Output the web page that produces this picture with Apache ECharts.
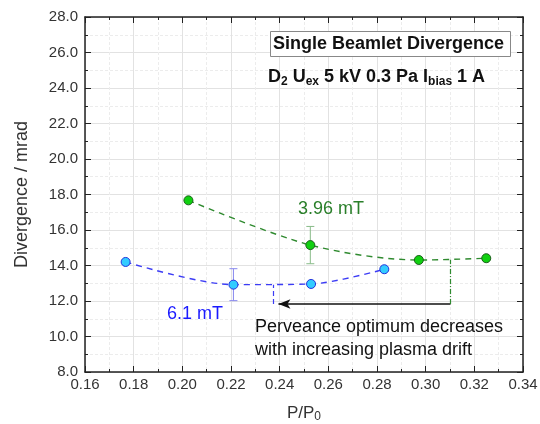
<!DOCTYPE html>
<html>
<head>
    <meta charset="utf-8">
    <script src="https://cdn.jsdelivr.net/npm/echarts@6/dist/echarts.min.js"></script>
    <style>
        *{
            margin:0;
            padding:0;
        }
    </style>
</head>
<body>
    <div id="main" style="width: 540px;height:424px;"></div>
    <script type="text/javascript">

    // 3.96 mT series
    var greenX = [0.2025, 0.2526, 0.2972, 0.3249];
    var greenY = [17.67, 15.15, 14.31, 14.41];
    var greenErr = [0, 1.05, 0, 0];
    // 6.1 mT series
    var blueX = [0.1767, 0.2210, 0.2529, 0.2830];
    var blueY = [14.20, 12.92, 12.96, 13.79];
    var blueErr = [0, 0.90, 0, 0];
    // annotation: optimum shift
    var arrowFrom = [0.3102, 11.83];
    var arrowTo = [0.2395, 11.83];
    var greenOptTop = 14.33;
    var blueOptX = 0.2375;
    var blueOptTop = 12.92;

    var font = 'Liberation Sans, Arial, sans-serif';

    function pairs(xs, ys) {
        return xs.map(function (x, i) { return [x, ys[i]]; });
    }
    function errData(xs, ys, es) {
        var out = [];
        xs.forEach(function (x, i) {
            if (es[i] > 0) out.push([x, ys[i] - es[i], ys[i] + es[i]]);
        });
        return out;
    }
    function errSeries(data, color) {
        return {
            type: 'custom',
            data: data,
            z: 3,
            renderItem: function (params, api) {
                var lo = api.coord([api.value(0), api.value(1)]);
                var hi = api.coord([api.value(0), api.value(2)]);
                var w = 4;
                var st = { stroke: color, lineWidth: 1 };
                return {
                    type: 'group',
                    children: [
                        { type: 'line', shape: { x1: lo[0], y1: lo[1], x2: hi[0], y2: hi[1] }, style: st },
                        { type: 'line', shape: { x1: lo[0] - w, y1: lo[1], x2: lo[0] + w, y2: lo[1] }, style: st },
                        { type: 'line', shape: { x1: hi[0] - w, y1: hi[1], x2: hi[0] + w, y2: hi[1] }, style: st }
                    ]
                };
            }
        };
    }

    var axisText = { color: '#333', fontSize: 15, fontFamily: font };

    function xAx(pos, show) {
        return {
            type: 'value', position: pos, min: 0.16, max: 0.34, interval: 0.02,
            axisLine: { show: true, onZero: false, lineStyle: { color: '#222', width: 1.5 } },
            axisTick: { show: true, inside: true, length: 6, lineStyle: { color: '#222' } },
            minorTick: { show: true, splitNumber: 2, length: 3, lineStyle: { color: '#222' } },
            splitLine: { show: show, lineStyle: { color: '#e2e2e2', width: 1 } },
            minorSplitLine: { show: show, lineStyle: { color: '#ececec', type: [3, 2] } },
            axisLabel: show ? Object.assign({ margin: 5, formatter: function (v) { return v.toFixed(2); } }, axisText) : { show: false },
            name: show ? 'P/P{sub|0}' : '',
            nameLocation: 'middle', nameGap: 31,
            nameTextStyle: {
                color: '#333', fontSize: 17, fontFamily: font,
                rich: { sub: { fontSize: 12, padding: [8, 0, 0, 0], color: '#333', fontFamily: font } }
            }
        };
    }
    function yAx(pos, show) {
        return {
            type: 'value', position: pos, min: 8, max: 28, interval: 2,
            axisLine: { show: true, onZero: false, lineStyle: { color: '#222', width: 1.5 } },
            axisTick: { show: true, inside: true, length: 6, lineStyle: { color: '#222' } },
            minorTick: { show: true, splitNumber: 2, length: 3, lineStyle: { color: '#222' } },
            splitLine: { show: show, lineStyle: { color: '#e2e2e2', width: 1 } },
            minorSplitLine: { show: show, lineStyle: { color: '#ececec', type: [3, 2] } },
            axisLabel: show ? Object.assign({ margin: 7, formatter: function (v) { return v.toFixed(1); } }, axisText) : { show: false },
            name: show ? 'Divergence / mrad' : '',
            nameLocation: 'middle', nameGap: 54,
            nameTextStyle: { color: '#333', fontSize: 18, fontFamily: font }
        };
    }

    var myChart = echarts.init(document.getElementById('main'));

    myChart.setOption({
        animation: false,
        backgroundColor: '#fff',
        grid: { left: 85, right: 17, top: 17, bottom: 52, containLabel: false, outerBoundsMode: 'none' },
        xAxis: [xAx('bottom', true), xAx('top', false)],
        yAxis: [yAx('left', true), yAx('right', false)],
        series: [
            {
                type: 'line',
                data: pairs(greenX, greenY),
                smooth: 0.3,
                symbol: 'circle',
                symbolSize: 9,
                z: 4,
                lineStyle: { color: '#2f8a2f', width: 1.4, type: [6, 5] },
                itemStyle: { color: '#10d010', borderColor: '#1d5f1d', borderWidth: 1 }
            },
            {
                type: 'line',
                data: pairs(blueX, blueY),
                smooth: 0.3,
                symbol: 'circle',
                symbolSize: 9,
                z: 4,
                lineStyle: { color: '#3c3cf5', width: 1.4, type: [6, 5] },
                itemStyle: { color: '#33ccff', borderColor: '#2233dd', borderWidth: 1 }
            },
            errSeries(errData(greenX, greenY, greenErr), '#88bb88'),
            errSeries(errData(blueX, blueY, blueErr), '#8888ee'),
            {
                type: 'line',
                data: [],
                markLine: {
                    silent: true,
                    animation: false,
                    label: { show: false },
                    data: [
                        [
                            { coord: arrowFrom, symbol: 'none', lineStyle: { color: '#111', width: 1.5, type: 'solid' } },
                            { coord: arrowTo, symbol: 'arrow', symbolSize: [7, 12] }
                        ],
                        [
                            { coord: [arrowFrom[0], arrowFrom[1]], symbol: 'none', lineStyle: { color: '#2f8a2f', width: 1.2, type: [5, 2, 1, 2] } },
                            { coord: [arrowFrom[0], greenOptTop], symbol: 'none' }
                        ],
                        [
                            { coord: [blueOptX, arrowFrom[1]], symbol: 'none', lineStyle: { color: '#3c3cf5', width: 1.2, type: [5, 3] } },
                            { coord: [blueOptX, blueOptTop], symbol: 'none' }
                        ]
                    ]
                }
            }
        ],
        graphic: [
            {
                type: 'rect', left: 270, top: 31,
                shape: { width: 240, height: 25 },
                style: { fill: '#fff', stroke: '#888', lineWidth: 1 }, z: 10
            },
            {
                type: 'text', left: 273, top: 35, z: 11,
                style: { text: 'Single Beamlet Divergence', font: 'bold 18px ' + font, fill: '#111' }
            },
            {
                type: 'text', left: 268, top: 68, z: 11,
                style: {
                    text: 'D{s|2} U{s|ex} 5 kV 0.3 Pa I{s|bias} 1 A',
                    font: 'bold 18px ' + font, fill: '#111',
                    rich: { s: { font: 'bold 12px ' + font, fill: '#111', padding: [10, 0, 0, 0] } }
                }
            },
            {
                type: 'text', left: 298, top: 200, z: 11,
                style: { text: '3.96 mT', font: '18px ' + font, fill: '#2a7f2a' }
            },
            {
                type: 'text', left: 167, top: 305, z: 11,
                style: { text: '6.1 mT', font: '18px ' + font, fill: '#1a1aff' }
            },
            {
                type: 'text', left: 255, top: 316, z: 11,
                style: { text: 'Perveance optimum decreases\nwith increasing plasma drift', font: '18px ' + font, fill: '#111', lineHeight: 23 }
            }
        ]
    });
</script>
</body>
</html>
